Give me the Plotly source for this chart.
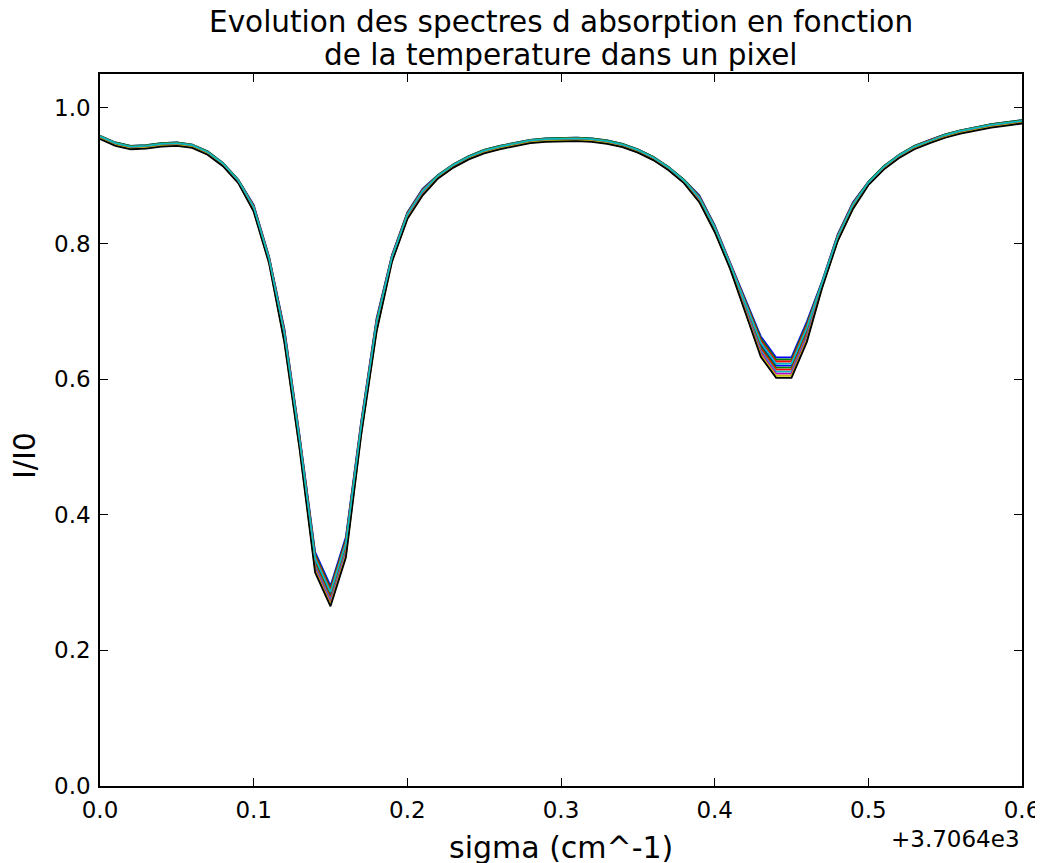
import plotly.graph_objects as go

# -------------------------------------------------------
# 1. Donnees - sigma relatif a 3706.4 cm^-1
# -------------------------------------------------------
sigma = [0.00, 0.01, 0.02, 0.03, 0.04, 0.05, 0.06, 0.07, 0.08, 0.09,
         0.10, 0.11, 0.12, 0.13, 0.14, 0.15, 0.16, 0.17, 0.18, 0.19,
         0.20, 0.21, 0.22, 0.23, 0.24, 0.25, 0.26, 0.27, 0.28, 0.29,
         0.30, 0.31, 0.32, 0.33, 0.34, 0.35, 0.36, 0.37, 0.38, 0.39,
         0.40, 0.41, 0.42, 0.43, 0.44, 0.45, 0.46, 0.47, 0.48, 0.49,
         0.50, 0.51, 0.52, 0.53, 0.54, 0.55, 0.56, 0.57, 0.58, 0.59,
         0.60]
sigma_offset = "+3.7064e3"

spectre_1 = [0.957, 0.947, 0.942, 0.943, 0.946, 0.947, 0.944, 0.934, 0.917, 0.892,
             0.853, 0.777, 0.666, 0.507, 0.333, 0.283, 0.355, 0.530, 0.682, 0.779,
             0.842, 0.877, 0.899, 0.915, 0.927, 0.936, 0.942, 0.947, 0.951, 0.953,
             0.954, 0.954, 0.953, 0.950, 0.945, 0.937, 0.926, 0.911, 0.892, 0.867,
             0.823, 0.769, 0.710, 0.651, 0.620, 0.620, 0.673, 0.741, 0.809, 0.857,
             0.889, 0.912, 0.929, 0.942, 0.951, 0.959, 0.965, 0.970, 0.974, 0.977,
             0.980]
spectre_2 = [0.957, 0.947, 0.942, 0.943, 0.946, 0.947, 0.944, 0.934, 0.917, 0.892,
             0.852, 0.776, 0.664, 0.505, 0.330, 0.280, 0.352, 0.528, 0.680, 0.778,
             0.841, 0.876, 0.899, 0.915, 0.927, 0.936, 0.942, 0.947, 0.951, 0.953,
             0.954, 0.954, 0.953, 0.950, 0.945, 0.937, 0.926, 0.911, 0.892, 0.866,
             0.822, 0.768, 0.708, 0.648, 0.617, 0.617, 0.670, 0.740, 0.808, 0.856,
             0.889, 0.912, 0.929, 0.942, 0.951, 0.959, 0.965, 0.970, 0.974, 0.977,
             0.980]
spectre_3 = [0.956, 0.946, 0.941, 0.942, 0.945, 0.946, 0.943, 0.933, 0.916, 0.891,
             0.851, 0.775, 0.662, 0.503, 0.327, 0.277, 0.349, 0.526, 0.678, 0.777,
             0.840, 0.875, 0.898, 0.914, 0.926, 0.935, 0.941, 0.946, 0.950, 0.952,
             0.953, 0.953, 0.952, 0.949, 0.944, 0.936, 0.925, 0.910, 0.891, 0.865,
             0.821, 0.767, 0.706, 0.645, 0.614, 0.614, 0.667, 0.739, 0.807, 0.855,
             0.888, 0.911, 0.928, 0.941, 0.950, 0.958, 0.964, 0.969, 0.973, 0.976,
             0.979]
spectre_4 = [0.956, 0.946, 0.941, 0.942, 0.945, 0.946, 0.943, 0.933, 0.916, 0.891,
             0.850, 0.774, 0.660, 0.501, 0.324, 0.274, 0.346, 0.524, 0.676, 0.776,
             0.839, 0.874, 0.898, 0.914, 0.926, 0.935, 0.941, 0.946, 0.950, 0.952,
             0.953, 0.953, 0.952, 0.949, 0.944, 0.936, 0.925, 0.910, 0.891, 0.864,
             0.820, 0.766, 0.704, 0.642, 0.611, 0.611, 0.664, 0.738, 0.806, 0.854,
             0.888, 0.911, 0.928, 0.941, 0.950, 0.958, 0.964, 0.969, 0.973, 0.976,
             0.979]
spectre_5 = [0.955, 0.945, 0.940, 0.941, 0.944, 0.945, 0.942, 0.932, 0.915, 0.890,
             0.849, 0.773, 0.658, 0.499, 0.321, 0.271, 0.343, 0.522, 0.674, 0.775,
             0.838, 0.873, 0.897, 0.913, 0.925, 0.934, 0.940, 0.945, 0.949, 0.951,
             0.952, 0.952, 0.951, 0.948, 0.943, 0.935, 0.924, 0.909, 0.890, 0.863,
             0.819, 0.765, 0.702, 0.639, 0.608, 0.608, 0.661, 0.737, 0.805, 0.853,
             0.887, 0.910, 0.927, 0.940, 0.949, 0.957, 0.963, 0.968, 0.972, 0.975,
             0.978]
spectre_6 = [0.955, 0.945, 0.940, 0.941, 0.944, 0.945, 0.942, 0.932, 0.915, 0.890,
             0.848, 0.772, 0.656, 0.497, 0.318, 0.268, 0.340, 0.520, 0.672, 0.774,
             0.837, 0.872, 0.897, 0.913, 0.925, 0.934, 0.940, 0.945, 0.949, 0.951,
             0.952, 0.952, 0.951, 0.948, 0.943, 0.935, 0.924, 0.909, 0.890, 0.862,
             0.818, 0.764, 0.700, 0.636, 0.605, 0.605, 0.658, 0.736, 0.804, 0.852,
             0.887, 0.910, 0.927, 0.940, 0.949, 0.957, 0.963, 0.968, 0.972, 0.975,
             0.978]
spectre_7 = [0.954, 0.944, 0.939, 0.940, 0.943, 0.944, 0.941, 0.931, 0.914, 0.889,
             0.847, 0.771, 0.654, 0.495, 0.315, 0.265, 0.337, 0.518, 0.670, 0.773,
             0.836, 0.871, 0.896, 0.912, 0.924, 0.933, 0.939, 0.944, 0.948, 0.950,
             0.951, 0.951, 0.950, 0.947, 0.942, 0.934, 0.923, 0.908, 0.889, 0.861,
             0.817, 0.763, 0.698, 0.633, 0.602, 0.602, 0.655, 0.735, 0.803, 0.851,
             0.886, 0.909, 0.926, 0.939, 0.948, 0.956, 0.962, 0.967, 0.971, 0.974,
             0.977]
spectre_8 = [0.959, 0.949, 0.944, 0.945, 0.948, 0.949, 0.946, 0.936, 0.919, 0.894,
             0.857, 0.781, 0.674, 0.515, 0.345, 0.295, 0.367, 0.538, 0.690, 0.783,
             0.846, 0.881, 0.901, 0.917, 0.929, 0.938, 0.944, 0.949, 0.953, 0.955,
             0.956, 0.956, 0.955, 0.952, 0.947, 0.939, 0.928, 0.913, 0.894, 0.871,
             0.827, 0.773, 0.718, 0.663, 0.632, 0.632, 0.685, 0.745, 0.813, 0.861,
             0.891, 0.914, 0.931, 0.944, 0.953, 0.961, 0.967, 0.972, 0.976, 0.979,
             0.982]
spectre_9 = [0.959, 0.949, 0.944, 0.945, 0.948, 0.949, 0.946, 0.936, 0.919, 0.894,
             0.856, 0.780, 0.672, 0.513, 0.342, 0.292, 0.364, 0.536, 0.688, 0.782,
             0.845, 0.880, 0.901, 0.917, 0.929, 0.938, 0.944, 0.949, 0.953, 0.955,
             0.956, 0.956, 0.955, 0.952, 0.947, 0.939, 0.928, 0.913, 0.894, 0.870,
             0.826, 0.772, 0.716, 0.660, 0.629, 0.629, 0.682, 0.744, 0.812, 0.860,
             0.891, 0.914, 0.931, 0.944, 0.953, 0.961, 0.967, 0.972, 0.976, 0.979,
             0.982]
spectre_10 = [0.958, 0.948, 0.943, 0.944, 0.947, 0.948, 0.945, 0.935, 0.918, 0.893,
              0.855, 0.779, 0.670, 0.511, 0.339, 0.289, 0.361, 0.534, 0.686, 0.781,
              0.844, 0.879, 0.900, 0.916, 0.928, 0.937, 0.943, 0.948, 0.952, 0.954,
              0.955, 0.955, 0.954, 0.951, 0.946, 0.938, 0.927, 0.912, 0.893, 0.869,
              0.825, 0.771, 0.714, 0.657, 0.626, 0.626, 0.679, 0.743, 0.811, 0.859,
              0.890, 0.913, 0.930, 0.943, 0.952, 0.960, 0.966, 0.971, 0.975, 0.978,
              0.981]
spectre_11 = [0.958, 0.948, 0.943, 0.944, 0.947, 0.948, 0.945, 0.935, 0.918, 0.893,
              0.854, 0.778, 0.668, 0.509, 0.336, 0.286, 0.358, 0.532, 0.684, 0.780,
              0.843, 0.878, 0.900, 0.916, 0.928, 0.937, 0.943, 0.948, 0.952, 0.954,
              0.955, 0.955, 0.954, 0.951, 0.946, 0.938, 0.927, 0.912, 0.893, 0.868,
              0.824, 0.770, 0.712, 0.654, 0.623, 0.623, 0.676, 0.742, 0.810, 0.858,
              0.890, 0.913, 0.930, 0.943, 0.952, 0.960, 0.966, 0.971, 0.975, 0.978,
              0.981]

spectres = [spectre_1, spectre_2, spectre_3, spectre_4, spectre_5, spectre_6,
            spectre_7, spectre_8, spectre_9, spectre_10, spectre_11]

# cycle de couleurs matplotlib classique (b, g, r, c, m, y, k)
couleurs = ["#0000ff", "#008000", "#ff0000", "#00bfbf", "#bf00bf", "#bfbf00", "#000000"]

FONT = "DejaVu Sans"

# -------------------------------------------------------
# 2. Figure
# -------------------------------------------------------
fig = go.Figure()
for k, spectre in enumerate(spectres):
    fig.add_trace(go.Scatter(
        x=sigma,
        y=spectre,
        mode="lines",
        line=dict(color=couleurs[k % len(couleurs)], width=1.8),
        showlegend=False,
        hoverinfo="skip",
    ))

axe = dict(
    showline=True, linecolor="black", linewidth=1.5, mirror="ticks",
    ticks="inside", ticklen=8, tickwidth=1, tickcolor="black",
    showgrid=False, zeroline=False, automargin=False,
    tickfont=dict(family=FONT, size=23, color="black"),
    tickformat=".1f",
)

# la page html garde une marge de 8 px autour du graphique
H = 712  # hauteur de la zone de trace
W = 922  # largeur de la zone de trace
fig.update_layout(
    width=1035, height=855,
    margin=dict(l=92, r=21, t=66, b=77),
    paper_bgcolor="white", plot_bgcolor="white",
    font=dict(family=FONT, color="black"),
    xaxis=dict(axe, range=[0, 0.6], dtick=0.1, ticklabelstandoff=3),
    yaxis=dict(axe, range=[0, 1.05], dtick=0.2, ticklabelstandoff=3),
    annotations=[
        dict(text="Evolution des spectres d absorption en fonction",
             xref="paper", yref="paper", x=0.5, y=1 + 52 / H,
             xanchor="center", yanchor="middle", showarrow=False,
             font=dict(family=FONT, size=29.5)),
        dict(text="de la temperature dans un pixel",
             xref="paper", yref="paper", x=0.5, y=1 + 19 / H,
             xanchor="center", yanchor="middle", showarrow=False,
             font=dict(family=FONT, size=29.5)),
        dict(text="sigma (cm^-1)",
             xref="paper", yref="paper", x=0.5, y=-61 / H,
             xanchor="center", yanchor="middle", showarrow=False,
             font=dict(family=FONT, size=30)),
        dict(text="I/I0", textangle=-90,
             xref="paper", yref="paper", x=-75 / W, y=(786 - 456) / H,
             xanchor="center", yanchor="middle", showarrow=False,
             font=dict(family=FONT, size=30)),
        dict(text=sigma_offset,
             xref="paper", yref="paper", x=1, y=-53 / H,
             xanchor="right", yanchor="middle", showarrow=False,
             font=dict(family=FONT, size=23)),
    ],
)

fig.write_html("out.html")
